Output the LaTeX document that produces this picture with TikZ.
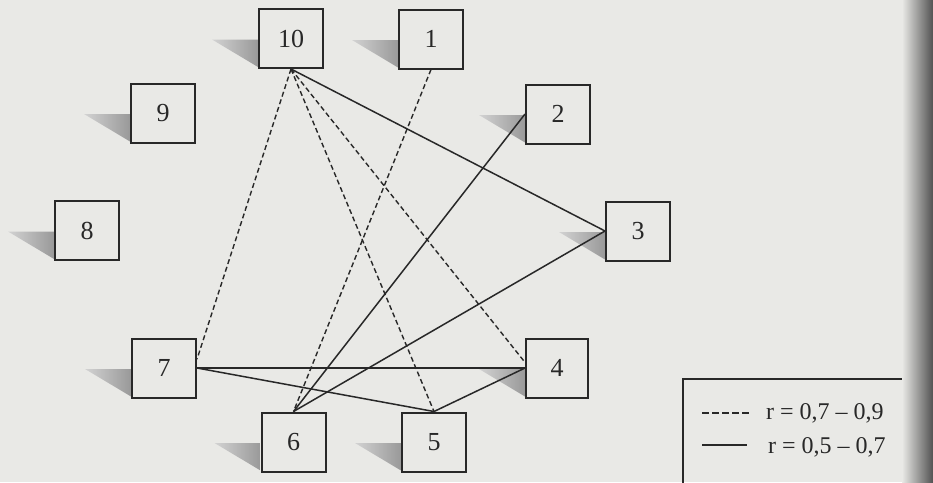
\documentclass[tikz,border=0pt]{standalone}
\usepackage{fontspec}
\setmainfont{Liberation Serif}
\usetikzlibrary{backgrounds}
\definecolor{paper}{RGB}{233,233,230}
\definecolor{ink}{RGB}{40,40,40}
\begin{document}
\begin{tikzpicture}[x=1pt,y=-1pt,
  box/.style={draw=ink, line width=2pt, minimum width=64pt, minimum height=59pt,
    inner sep=0pt, text=ink, font=\fontsize{26}{26}\selectfont},
  link/.style={draw=ink, line width=1.5pt},
  dlink/.style={draw=ink, line width=1.4pt, dash pattern=on 5pt off 3pt},
  legtext/.style={anchor=base west, inner sep=0pt, text=ink, font=\fontsize{24}{24}\selectfont},
]
\useasboundingbox (0,0) rectangle (933,482);
\clip (0,0) rectangle (933,482);
% boxes
\node[box] (10) at (291,38.5) {10};
\node[box] (1)  at (431,39)   {1};
\node[box] (9)  at (163,113)  {9};
\node[box] (2)  at (558,114)  {2};
\node[box] (8)  at (87,230.5) {8};
\node[box] (3)  at (638,231)  {3};
\node[box] (7)  at (164,368)  {7};
\node[box, minimum width=62pt] (4)  at (557,368)  {4};
\node[box] (6)  at (293.5,442) {6};
\node[box] (5)  at (434,442)  {5};
% shadows and paper
\begin{scope}[on background layer]
  \fill[paper] (0,0) rectangle (933,482);
  \foreach \n in {10,1,9,2,8,3,7,4,6,5}{
    \shade[left color=gray!35, right color=gray!80]
      ([xshift=-46pt,yshift=-1pt]\n.west) -- ([yshift=-1pt]\n.west)
      -- ([yshift=2pt]\n.south west) -- cycle;
  }
\end{scope}
% solid connectors (r = 0,5 - 0,7)
\draw[link] (10.south) -- (3.west);
\draw[link] (2.west) -- (6.north);
\draw[link] (3.west) -- (6.north);
\draw[link] (7.east) -- (4.west);
\draw[link] (7.east) -- (5.north);
\draw[link] (4.west) -- (5.north);
% dashed connectors (r = 0,7 - 0,9)
\draw[dlink] (10.south) -- (7.15);
\draw[dlink] (10.south) -- (5.north);
\draw[dlink] (10.south) -- (4.170);
\draw[dlink] (1.south) -- (6.north);
% legend
\node[draw=ink, line width=1.6pt, anchor=north west, minimum width=290pt,
  minimum height=150pt, inner sep=0pt] (legend) at (682,378) {};
\coordinate (da) at (702,413);
\coordinate (db) at (750,413);
\coordinate (sa) at (702,445);
\coordinate (sb) at (747,445);
\draw[ink, line width=1.5pt, dash pattern=on 7pt off 3pt] (da) -- (db);
\draw[ink, line width=1.5pt] (sa) -- (sb);
\node[legtext] (l1) at (766,419) {r = 0,7 – 0,9};
\node[legtext] (l2) at (768,453) {r = 0,5 – 0,7};
% page binding shade at the right edge
\shade[left color=paper, right color=black!68] (902,0) rectangle (933,482);
\end{tikzpicture}
\end{document}
